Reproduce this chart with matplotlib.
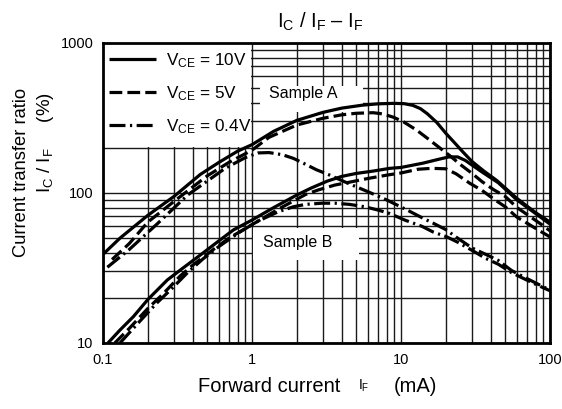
import matplotlib
matplotlib.use("Agg")
import matplotlib.pyplot as plt
from matplotlib.ticker import LogLocator, NullFormatter, FixedLocator, FixedFormatter
from matplotlib.patches import Rectangle

plt.rcParams['font.family'] = ['Liberation Sans', 'DejaVu Sans']
plt.rcParams['mathtext.fontset'] = 'custom'
plt.rcParams['mathtext.rm'] = 'Liberation Sans'
plt.rcParams['mathtext.it'] = 'Liberation Sans'
plt.rcParams['mathtext.bf'] = 'Liberation Sans:bold'

# ---- data ----
# Sample A
a10_x = [0.1, 0.13, 0.2, 0.3, 0.45, 0.6, 0.8, 1.0, 1.4, 2.0, 3.0, 4.0, 5.5, 7.0, 9.0, 10.5, 12, 13.5, 15, 17.4, 20, 23, 26, 30, 36, 44, 60, 80, 100]
a10_y = [39, 50, 71, 95, 133, 160, 190, 210, 258, 305, 345, 368, 385, 393, 396, 394, 384, 365, 338, 295, 250, 215, 188, 162, 140, 121, 92, 74, 64]

a5_x = [0.115, 0.15, 0.2, 0.3, 0.5, 0.7, 1.0, 1.3, 2.0, 3.0, 4.0, 5.0, 6.5, 7.5, 8.9, 10.4, 12.7, 15, 18.3, 21.3, 25, 30, 35, 42, 50, 60, 70, 85, 100]
a5_y = [36, 46, 64, 88, 130, 160, 193, 235, 284, 315, 332, 340, 343, 337, 320, 298, 263, 232, 199, 177, 155, 135, 119, 105, 95, 80, 72, 63, 56]

a04_x = [0.107, 0.15, 0.23, 0.37, 0.5, 0.66, 0.9, 1.1, 1.3, 1.6, 1.9, 2.3, 2.7, 3.3, 4.5, 6.0, 8.0, 11, 14, 16.4, 20, 24, 30, 37, 45, 55, 66, 81, 100]
a04_y = [32, 42, 62, 97, 120, 146, 172, 185, 186, 180, 170, 155, 143, 132, 115, 102, 90, 77, 68, 63, 57, 50, 43, 39, 35.5, 30.5, 27.7, 25, 22.5]

# Sample B
b10_x = [0.108, 0.13, 0.16, 0.2, 0.27, 0.35, 0.45, 0.6, 0.75, 1.0, 1.4, 2.0, 2.5, 3.2, 4.0, 5.0, 6.5, 8.4, 10, 14, 18, 21, 24, 27, 31, 35, 45, 60, 80, 100]
b10_y = [10, 12.2, 15, 19.5, 26.3, 32, 38.6, 48, 56.7, 66, 80, 97, 108, 120, 129, 135, 140, 146, 148, 158, 168, 174, 174, 165, 150, 138, 117, 90, 73, 62]

b5_x = [0.12, 0.15, 0.2, 0.25, 0.33, 0.4, 0.55, 0.7, 1.1, 1.5, 2.3, 2.8, 3.6, 4.5, 6.0, 8.2, 10, 13, 16, 20, 23.5, 26, 29, 35, 42, 50, 60, 70, 85, 100]
b5_y = [10, 12.5, 17, 21, 28, 33, 42, 50, 65, 78, 98, 105, 113, 118, 125, 132, 136, 144, 146, 145, 134, 125, 116, 104, 91, 81, 69, 63, 56, 51]

b04_x = [0.13, 0.177, 0.23, 0.289, 0.37, 0.471, 0.6, 0.83, 1.1, 1.5, 1.9, 2.3, 2.95, 3.6, 4.5, 5.7, 7.0, 8.4, 10.6, 13.8, 16.4, 20.3, 24, 30.6, 36.7, 45, 55, 66, 81, 100]
b04_y = [10, 14, 18.5, 23, 29.5, 36.5, 44, 55, 65, 75, 81, 84, 85.5, 85.5, 84, 81, 77, 73, 66, 60, 55, 51, 47, 41, 36.8, 33.5, 29.5, 27, 24.5, 22.3]

legend_labels = ['V$_{CE}$ = 10V', 'V$_{CE}$ = 5V', 'V$_{CE}$ = 0.4V']
x_ticks = [0.1, 1, 10, 100]
x_ticklabels = ['0.1', '1', '10', '100']
y_ticks = [10, 100, 1000]
y_ticklabels = ['10', '100', '1000']

# ---- figure ----
W, H = 562, 409
fig = plt.figure(figsize=(W / 100, H / 100), dpi=100)
L, R, T, B = 103, 550, 43, 343
ax = fig.add_axes([L / W, 1 - B / H, (R - L) / W, (B - T) / H])
ax.set_xscale('log')
ax.set_yscale('log')
ax.set_xlim(0.1, 100)
ax.set_ylim(10, 1000)

ax.xaxis.set_major_locator(FixedLocator(x_ticks))
ax.xaxis.set_major_formatter(FixedFormatter(x_ticklabels))
ax.yaxis.set_major_locator(FixedLocator(y_ticks))
ax.yaxis.set_major_formatter(FixedFormatter(y_ticklabels))
ax.xaxis.set_minor_locator(LogLocator(base=10, subs=range(2, 10)))
ax.yaxis.set_minor_locator(LogLocator(base=10, subs=range(2, 10)))
ax.xaxis.set_minor_formatter(NullFormatter())
ax.yaxis.set_minor_formatter(NullFormatter())
ax.tick_params(which='both', length=0)
ax.tick_params(axis='x', labelsize=10.5, pad=7)
ax.tick_params(axis='y', labelsize=10.5, pad=7)
ax.grid(which='both', color='#1a1a1a', linewidth=1.0)
ax.set_axisbelow(True)
for s in ax.spines.values():
    s.set_linewidth(2.0)
    s.set_zorder(5)

# white label areas
ax.add_patch(Rectangle((0.1, 203), 0.99 - 0.1, 1000 - 203, facecolor='white', edgecolor='none', zorder=1.5))
ax.add_patch(Rectangle((1.13, 345), 5.6 - 1.13, 520 - 345, facecolor='white', edgecolor='none', zorder=1.5))
ax.add_patch(Rectangle((1.01, 35.5), 5.2 - 1.01, 58 - 35.5, facecolor='white', edgecolor='none', zorder=1.5))

lw = 2.3
dash = (0, (4.0, 1.6))
dashdot = (0, (5.0, 1.4, 0.7, 1.4))
kw = dict(color='black', linewidth=lw, zorder=3, solid_capstyle='butt', dash_capstyle='butt',
          solid_joinstyle='round')
ax.plot(a10_x, a10_y, linestyle='-', label=legend_labels[0], **kw)
ax.plot(a5_x, a5_y, linestyle=dash, label=legend_labels[1], **kw)
ax.plot(a04_x, a04_y, linestyle=dashdot, label=legend_labels[2], **kw)
ax.plot(b10_x, b10_y, linestyle='-', **kw)
ax.plot(b5_x, b5_y, linestyle=dash, **kw)
ax.plot(b04_x, b04_y, linestyle=dashdot, **kw)

leg = ax.legend(loc='upper left', bbox_to_anchor=(0.014, 0.972), frameon=False,
                fontsize=12.3, handlelength=2.75, handletextpad=0.55,
                labelspacing=0.82, borderaxespad=0, borderpad=0)
leg.set_zorder(6)

ax.text(2.2, 462, 'Sample A', ha='center', va='center', fontsize=11.5, zorder=4)
ax.text(2.02, 46.5, 'Sample B', ha='center', va='center', fontsize=11.5, zorder=4)

fig.text(320 / W, 1 - 22 / H, 'I$_C$ / I$_F$ \u2013 I$_F$', ha='center', va='center', fontsize=14.5)
fig.text(269.5 / W, 1 - 386 / H, 'Forward current', ha='center', va='center', fontsize=14.5)
fig.text(364 / W, 1 - 386 / H, 'I$_F$', ha='center', va='center', fontsize=10)
fig.text(415.5 / W, 1 - 386 / H, '(mA)', ha='center', va='center', fontsize=14.5)
fig.text(22 / W, 1 - 172 / H, 'Current transfer ratio', rotation=90, ha='center', va='center', fontsize=13.2)
fig.text(46 / W, 1 - 143 / H, 'I$_C$ / I$_F$     (%)', rotation=90, ha='center', va='center', fontsize=13.5)

fig.savefig('out.png', dpi=100, facecolor='white')
